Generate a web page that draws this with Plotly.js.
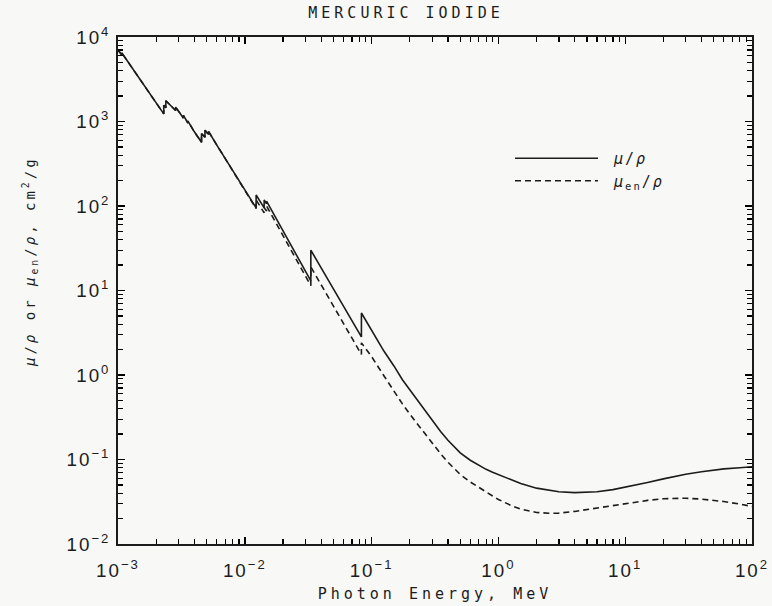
<!DOCTYPE html>
<html>
<head>
<meta charset="utf-8">
<script src="https://cdn.plot.ly/plotly-3.0.1.min.js"></script>
<style>
  body { margin: 0; background: #f8f8f6; }
  #chart { width: 772px; height: 606px; }
  .gtitle { letter-spacing: 4px; }
  .xtitle { letter-spacing: 4px; }
  .annotation-text { letter-spacing: 3px; }
  .legendtext { letter-spacing: 2px; }
  .xtick text, .ytick text { letter-spacing: 2px; }
</style>
</head>
<body>
<div id="chart"></div>
<script>
// Photon energy (MeV) and mass attenuation coefficient mu/rho (cm^2/g); edges appear as repeated energies
const energyMu = [0.001, 0.00107, 0.00107, 0.0015, 0.002, 0.002295, 0.002295, 0.002385, 0.002385, 0.0026,
  0.002847, 0.002847, 0.003278, 0.003278, 0.003562, 0.003562, 0.004, 0.004557, 0.004557, 0.004852,
  0.004852, 0.005188, 0.005188, 0.006, 0.008, 0.01, 0.012284, 0.012284, 0.013, 0.014209,
  0.014209, 0.014839, 0.014839, 0.02, 0.025, 0.03, 0.03317, 0.03317, 0.04, 0.05,
  0.06, 0.07, 0.0831, 0.0831, 0.1, 0.125, 0.15, 0.175, 0.2, 0.25,
  0.3, 0.35, 0.4, 0.45, 0.5, 0.6, 0.7, 0.8, 0.9, 1,
  1.25, 1.5, 2, 2.5, 3, 4, 5, 6, 8, 10,
  15, 20, 30, 40, 50, 60, 80, 100];
const muRho = [7000, 6150, 6500, 3150, 1680, 1230, 1560, 1450, 1760, 1540,
  1350, 1480, 1100, 1180, 960, 1010, 755, 567, 720, 650,
  790, 700, 760, 530, 263, 154, 95, 135, 117, 95,
  118, 106, 114, 51, 28, 17.1, 13, 30, 18.5, 10.4,
  6.5, 4.4, 2.82, 5.42, 3.35, 1.92, 1.28, 0.88, 0.67, 0.42,
  0.287, 0.214, 0.169, 0.140, 0.120, 0.098, 0.085, 0.0765, 0.0705, 0.0660,
  0.0575, 0.0520, 0.0458, 0.0430, 0.0415, 0.0405, 0.0408, 0.0415, 0.0440, 0.0470,
  0.0535, 0.0590, 0.0670, 0.0715, 0.0750, 0.0775, 0.0800, 0.0822];

// Mass energy-absorption coefficient mu_en/rho (cm^2/g)
const energyMuen = [0.001, 0.00107, 0.00107, 0.0015, 0.002, 0.002295, 0.002295, 0.002385, 0.002385, 0.0026,
  0.002847, 0.002847, 0.003278, 0.003278, 0.003562, 0.003562, 0.004, 0.004557, 0.004557, 0.004852,
  0.004852, 0.005188, 0.005188, 0.006, 0.008, 0.01, 0.012284, 0.012284, 0.013, 0.014209,
  0.014209, 0.014839, 0.014839, 0.02, 0.025, 0.03, 0.03317, 0.03317, 0.04, 0.05,
  0.06, 0.07, 0.0831, 0.0831, 0.1, 0.125, 0.15, 0.175, 0.2, 0.25,
  0.3, 0.35, 0.4, 0.45, 0.5, 0.6, 0.7, 0.8, 0.9, 1,
  1.25, 1.5, 2, 2.5, 3, 4, 5, 6, 8, 10,
  15, 20, 25, 30, 40, 50, 60, 80, 100];
const muenRho = [7000, 6150, 6500, 3150, 1680, 1230, 1560, 1450, 1760, 1540,
  1350, 1480, 1100, 1180, 960, 1010, 755, 567, 720, 650,
  790, 700, 760, 530, 263, 154, 93, 118, 102, 83,
  96, 87, 100, 44.7, 24.5, 15.0, 11.4, 19, 11.7, 6.5,
  4.1, 2.75, 1.75, 2.4, 1.65, 0.98, 0.64, 0.455, 0.345, 0.222,
  0.155, 0.117, 0.093, 0.0776, 0.0665, 0.0542, 0.0465, 0.0410, 0.0370, 0.0337,
  0.0287, 0.0259, 0.0236, 0.0231, 0.0232, 0.0243, 0.0255, 0.0265, 0.0285, 0.0302,
  0.0328, 0.0343, 0.0349, 0.0348, 0.0340, 0.0329, 0.0318, 0.0297, 0.0278];

// Tick labels: decade labels that Plotly would otherwise print as "1" and "10"
const decadeLabels = { '1': '10<sup>0</sup>', '10': '10<sup>1</sup>' };
const xRangeDecades = [-3, 2];
const yRangeDecades = [-2, 4];

const ink = '#1c1c1c';
const tickFont = { family: 'Liberation Sans, Arial, sans-serif', size: 15, color: ink };
const monoFont = { family: 'DejaVu Sans Mono, monospace', size: 15, color: ink };

const traces = [
  {
    x: energyMu, y: muRho, type: 'scatter', mode: 'lines',
    name: '\u00a0<i>μ</i>/<i>ρ</i>',
    line: { color: ink, width: 1.6 }
  },
  {
    x: energyMuen, y: muenRho, type: 'scatter', mode: 'lines',
    name: '\u00a0<i>μ</i><sub>en</sub>/<i>ρ</i>',
    line: { color: ink, width: 1.6, dash: '6px,4px' }
  }
];

const axisCommon = {
  type: 'log',
  tickmode: 'linear',
  tick0: 0,
  dtick: 1,
  exponentformat: 'power',
  showexponent: 'all',
  labelalias: decadeLabels,
  ticks: 'inside',
  ticklen: 7,
  tickwidth: 1.4,
  tickcolor: '#000',
  showline: true,
  linecolor: ink,
  linewidth: 1.6,
  mirror: 'allticks',
  showgrid: false,
  zeroline: false,
  tickfont: tickFont,
  automargin: false,
  minor: { dtick: 'D1', ticks: 'inside', ticklen: 5, tickwidth: 1.2, tickcolor: '#000', showgrid: false }
};

const layout = {
  width: 772,
  height: 606,
  paper_bgcolor: '#f8f8f6',
  plot_bgcolor: '#f8f8f6',
  margin: { l: 118, r: 20, t: 37, b: 62 },
  title: {
    text: 'MERCURIC IODIDE',
    font: monoFont,
    x: 406 / 772, xref: 'container', xanchor: 'center',
    y: 1 - 13 / 606, yref: 'container', yanchor: 'middle'
  },
  xaxis: Object.assign({}, axisCommon, {
    range: xRangeDecades,
    ticklabelstandoff: 10,
    title: { text: 'Photon Energy, MeV', font: monoFont, standoff: 8 }
  }),
  yaxis: Object.assign({}, axisCommon, {
    range: yRangeDecades,
    ticklabelstandoff: 3
  }),
  showlegend: true,
  legend: {
    x: (510 - 118) / 634, xanchor: 'left',
    y: (544 - 142) / 507, yanchor: 'top',
    bgcolor: 'rgba(0,0,0,0)',
    font: monoFont,
    itemwidth: 83,
    tracegroupgap: 0
  },
  annotations: [{
    text: '<i>μ</i>/<i>ρ</i> or <i>μ</i><sub>en</sub>/<i>ρ</i>, cm<sup>2</sup>/g',
    xref: 'paper', yref: 'paper',
    x: (30 - 118) / 634, y: (544 - 262) / 507,
    xanchor: 'center', yanchor: 'middle',
    textangle: -90,
    showarrow: false,
    font: { family: 'DejaVu Sans Mono, monospace', size: 14, color: ink }
  }]
};

Plotly.newPlot('chart', traces, layout, { displayModeBar: false, staticPlot: true });
</script>
</body>
</html>
